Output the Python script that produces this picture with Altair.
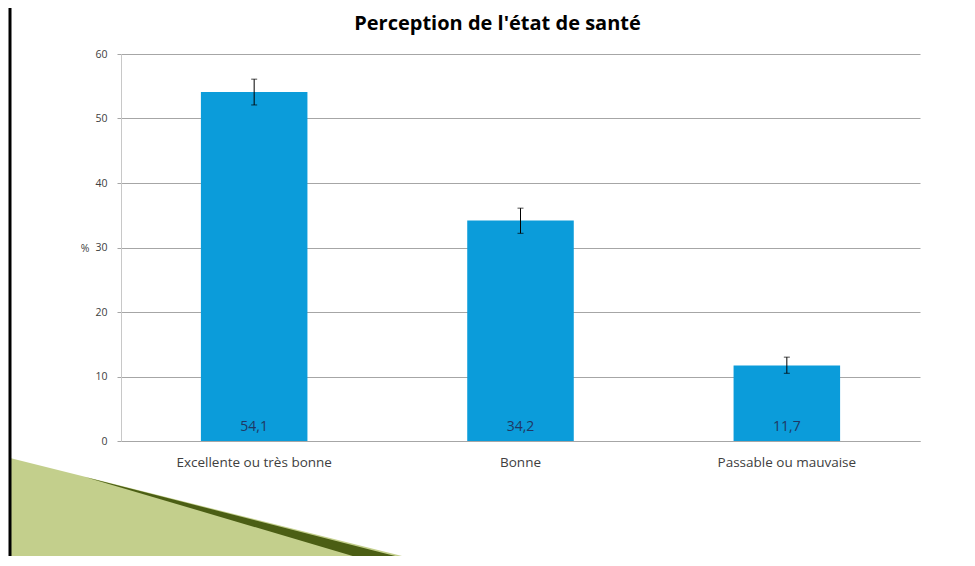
import altair as alt
import pandas as pd

categories = ["Excellente ou très bonne", "Bonne", "Passable ou mauvaise"]
values = [54.1, 34.2, 11.7]
err_low = [52.1, 32.2, 10.5]
err_high = [56.1, 36.1, 13.0]
y_ticks = [0, 10, 20, 30, 40, 50, 60]

df = pd.DataFrame({
    "cat": categories,
    "val": values,
    "lo": err_low,
    "hi": err_high,
})
df["lbl"] = [f"{v:.1f}".replace(".", ",") for v in values]

FONT = "Open Sans"
W, H = 799, 387

x = alt.X("cat:N", sort=categories, title=None,
          scale=alt.Scale(paddingInner=0.6, paddingOuter=0.3),
          axis=alt.Axis(labelAngle=0, labelFontSize=13.5, labelColor="#404040",
                        labelFont=FONT, ticks=False, labelPadding=14,
                        domainColor="#a6a6a6", labelLimit=300))
y = alt.Y("val:Q", title="%",
          scale=alt.Scale(domain=[0, 60]),
          axis=alt.Axis(values=y_ticks, labelFontSize=10.5, labelColor="#404040",
                        labelFont=FONT, tickSize=4, tickColor="#a6a6a6",
                        domainColor="#c8c8c8", gridColor="#a6a6a6", labelPadding=10,
                        titleAngle=0, titleX=-32, titleY=194, titleAlign="right",
                        titleBaseline="middle", titleFontSize=10.5, titleFont=FONT,
                        titleFontWeight="normal", titleColor="#404040"))

base = alt.Chart(df)
bars = base.mark_bar(color="#0b9cda").encode(x=x, y=y)
rule = base.mark_rule(color="#000000", strokeWidth=1).encode(
    x=alt.X("cat:N", sort=categories), y="lo:Q", y2="hi:Q")
cap_lo = base.mark_tick(color="#000000", size=6, thickness=1, orient="horizontal").encode(
    x=alt.X("cat:N", sort=categories), y="lo:Q")
cap_hi = base.mark_tick(color="#000000", size=6, thickness=1, orient="horizontal").encode(
    x=alt.X("cat:N", sort=categories), y="hi:Q")
labels = base.mark_text(color="#1f3864", fontSize=14, font=FONT, dy=-14, baseline="middle").encode(
    x=alt.X("cat:N", sort=categories), y=alt.datum(0), text="lbl:N")

dummy = alt.Chart(pd.DataFrame({"d": [0]}))
border = dummy.mark_rule(color="#000000", strokeWidth=3).encode(
    x=alt.value(-111), y=alt.value(-60), y2=alt.value(530))
tri_light = dummy.mark_point(filled=True, opacity=1, color="#c3cf8c", size=193600,
                             shape="M-1,0.4909L1,0.9909L1,1L-1,1Z").encode(
    x=alt.value(109), y=alt.value(296))
tri_dark = dummy.mark_point(filled=True, opacity=1, color="#4b5e14", size=193600,
                            shape="M-0.659,0.577L1,1L0.773,1Z").encode(
    x=alt.value(109), y=alt.value(296))

chart = alt.layer(tri_light, tri_dark, border, bars, rule, cap_lo, cap_hi, labels).properties(
    width=W, height=H,
    background="#ffffff",
    title=alt.TitleParams("Perception de l'état de santé", fontSize=20, font=FONT,
                          fontWeight="bold", color="#000000", dx=-23, dy=57, offset=0,
                          frame="group", anchor="middle", baseline="alphabetic"),
    autosize=alt.AutoSizeParams(type="none"),
    padding={"left": 113, "top": 46, "right": 40, "bottom": 115},
).configure_view(stroke=None)

chart.save("out.html", embed_options={"renderer": "svg", "actions": False})
